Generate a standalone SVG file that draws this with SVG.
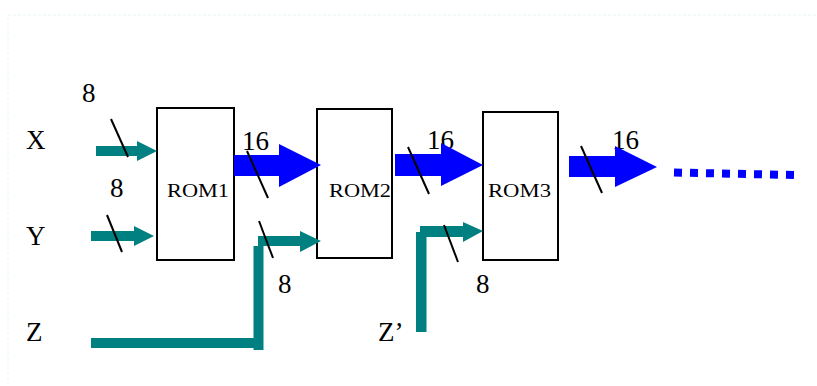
<svg xmlns="http://www.w3.org/2000/svg" width="817" height="386" viewBox="0 0 817 386">
<style>
.lbl{font-family:"Liberation Serif","Times New Roman",serif;font-size:27px;fill:#000}
.rom{font-family:"Liberation Serif","Times New Roman",serif;font-size:19px;fill:#000}
.box{fill:#fff;stroke:#000;stroke-width:2}
.teal{fill:#008080}
.blue{fill:#0000ff}
.sl{stroke:#000;stroke-width:2;fill:none}
</style>
<rect x="8" y="15" width="830" height="400" fill="#fff" stroke="#e6f7f7" stroke-width="1" stroke-dasharray="3 2"/>
<g id="labels">
<text class="lbl" x="26" y="149">X</text>
<text class="lbl" x="26" y="245">Y</text>
<text class="lbl" x="26" y="341">Z</text>
<text class="lbl" x="378" y="341">Z’</text>
<text class="lbl" x="82" y="102">8</text>
<text class="lbl" x="110" y="197">8</text>
<text class="lbl" x="242" y="150">16</text>
<text class="lbl" x="427" y="149">16</text>
<text class="lbl" x="612" y="149">16</text>
<text class="lbl" x="278" y="293">8</text>
<text class="lbl" x="476" y="293">8</text>
</g>
<g id="rom1">
<rect class="box" x="157" y="108" width="77" height="152"/>
<text class="rom" x="167" y="197" textLength="62" lengthAdjust="spacingAndGlyphs">ROM1</text>
</g>
<g id="rom2">
<rect class="box" x="317" y="109" width="75" height="149"/>
<text class="rom" x="329" y="197" textLength="62" lengthAdjust="spacingAndGlyphs">ROM2</text>
</g>
<g id="rom3">
<rect class="box" x="483" y="112" width="75" height="148"/>
<text class="rom" x="488" y="197" textLength="63" lengthAdjust="spacingAndGlyphs">ROM3</text>
</g>
<g id="connectors">
<polygon class="teal" points="96,146 137,146 137,141 157,151 137,161 137,156 96,156"/>
<polygon class="teal" points="91,231 134,231 134,226 154,236 134,246 134,241 91,241"/>
<polygon class="teal" points="91,338 253.5,338 253.5,246 258,246 258,236 300,236 300,231 321,241 300,252 300,246 263.5,246 263.5,350 253.5,350 253.5,348 91,348"/>
<polygon class="teal" points="416,332 416,232 420,232 420,226 463,226 463,222 483,231 463,242 463,237 426.5,237 426.5,332"/>
<polygon class="blue" points="234,155 279,155 279,144 321,165 279,187 279,176 234,176"/>
<polygon class="blue" points="395,154 441,154 441,143 483,165 441,186 441,176 395,176"/>
<polygon class="blue" points="569,156 615,156 615,146 657,167 615,187 615,177 569,177"/>
<line x1="674" y1="172.5" x2="796" y2="175" stroke="#0000ff" stroke-width="8" stroke-dasharray="8 8"/>
<line class="sl" x1="111" y1="119" x2="128" y2="157"/>
<line class="sl" x1="107" y1="215" x2="122" y2="252"/>
<line class="sl" x1="247" y1="151" x2="268" y2="198"/>
<line class="sl" x1="259" y1="221" x2="273" y2="258"/>
<line class="sl" x1="408" y1="147" x2="429" y2="194"/>
<line class="sl" x1="444" y1="225" x2="458" y2="262"/>
<line class="sl" x1="581" y1="146" x2="602" y2="193"/>
</g>
</svg>
